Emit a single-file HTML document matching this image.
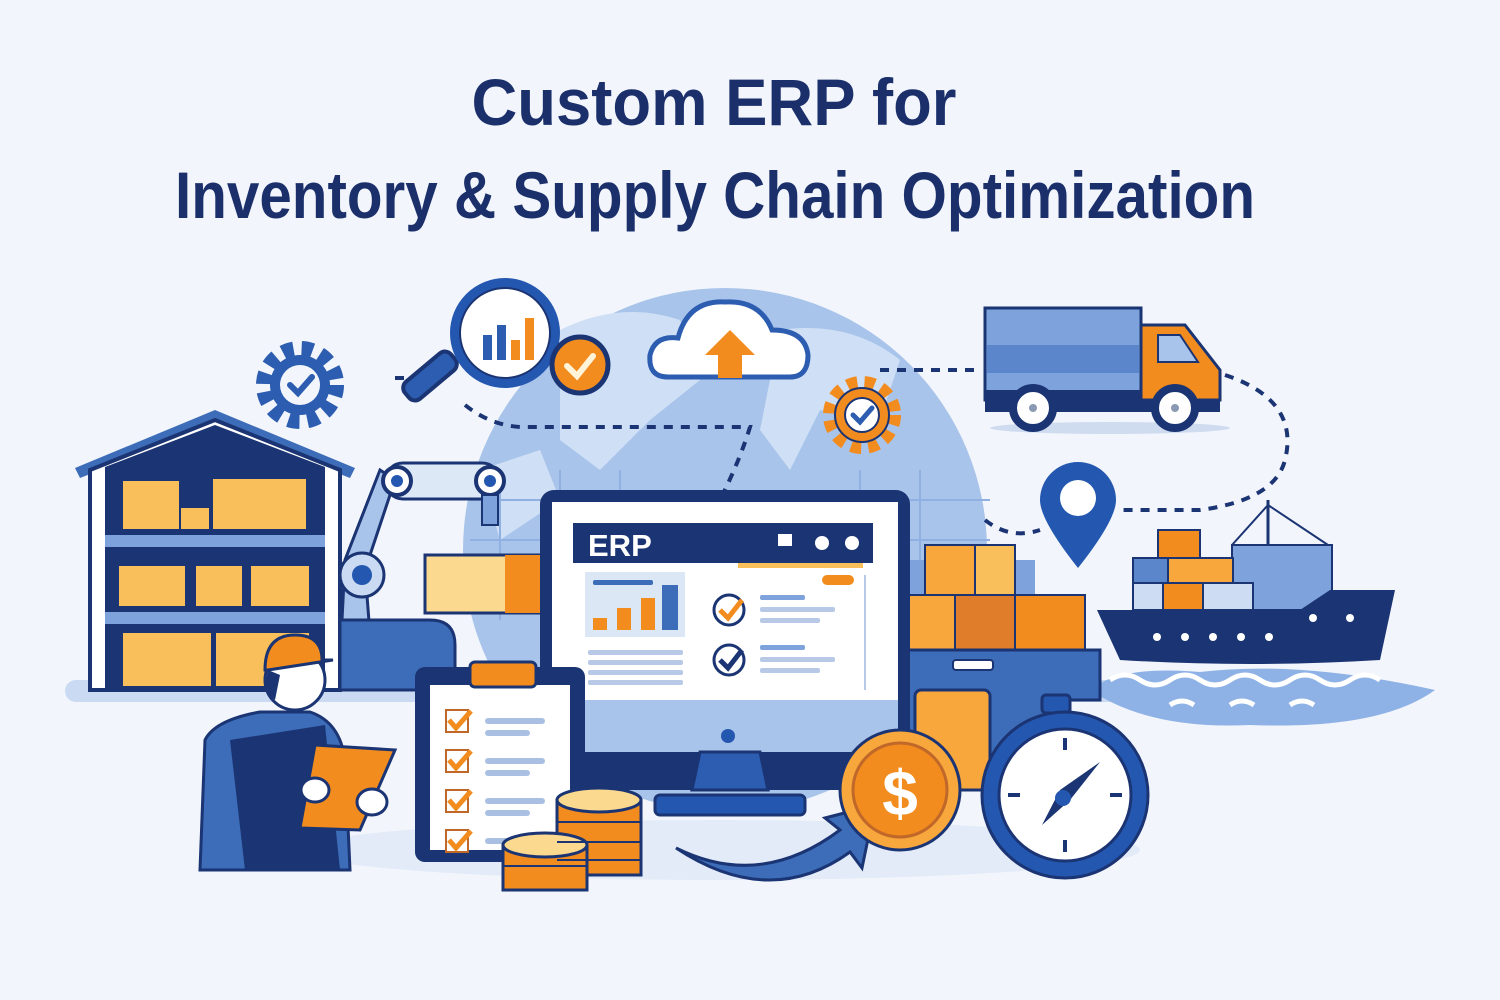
<!DOCTYPE html>
<html><head><meta charset="utf-8"><style>
html,body{margin:0;padding:0;background:#f2f5fb;width:1500px;height:1000px;overflow:hidden}
svg{display:block}
</style></head><body>
<svg width="1500" height="1000" viewBox="0 0 1500 1000" xmlns="http://www.w3.org/2000/svg">
<rect width="1500" height="1000" fill="#f2f5fb"/>
<g font-family="'Liberation Sans Narrow','Liberation Sans',sans-serif" font-weight="bold" fill="#1b2f6b" text-anchor="middle">
<text x="714" y="125" font-size="66" textLength="485" lengthAdjust="spacingAndGlyphs">Custom ERP for</text>
<text x="715" y="218" font-size="66" textLength="1080" lengthAdjust="spacingAndGlyphs">Inventory &amp; Supply Chain Optimization</text>
</g>
<!-- ground shadows -->
<rect x="65" y="680" width="1080" height="22" rx="11" fill="#c9daf2"/>
<ellipse cx="720" cy="850" rx="420" ry="30" fill="#e2ebf7"/>
<!-- globe -->
<circle cx="725" cy="550" r="262" fill="#a9c4ea"/>
<path d="M560 330 Q620 300 680 320 L700 380 L650 420 L600 470 L560 440 Z" fill="#cfe0f6"/>
<path d="M780 330 Q850 320 900 360 L880 420 L820 410 L790 470 L760 430 Z" fill="#cfe0f6"/>
<path d="M480 470 L540 450 L560 500 L500 540 Z" fill="#cfe0f6"/>
<g stroke="#8fb0e0" stroke-width="2" fill="none">
<path d="M470 500 H990 M470 540 H990 M500 470 V620 M560 470 V620 M620 470 V620 M860 470 V620 M920 470 V620"/>
</g>
<!-- dotted connectors -->
<g stroke="#1b3473" stroke-width="4" stroke-dasharray="9 8" fill="none">
<path d="M395 378 H445"/>
<path d="M465 405 Q490 425 520 427 H750 Q740 460 720 500"/>
<path d="M880 370 H980"/>
<path d="M1225 375 Q1300 400 1285 460 Q1275 500 1200 510 H1120"/>
<path d="M985 520 Q1010 540 1040 530"/>
</g>
<!-- magnifier -->
<rect x="400" y="365" width="60" height="22" rx="8" transform="rotate(-40 430 376)" fill="#2c5db0" stroke="#1b3473" stroke-width="4"/>
<circle cx="505" cy="333" r="50" fill="#fff" stroke="#2458b0" stroke-width="10"/>
<circle cx="505" cy="333" r="45" fill="none" stroke="#1b3473" stroke-width="2"/>
<rect x="483" y="335" width="9" height="25" fill="#2c5db0"/><rect x="497" y="325" width="9" height="35" fill="#2c5db0"/>
<rect x="511" y="340" width="9" height="20" fill="#f28c1e"/><rect x="525" y="318" width="9" height="42" fill="#f28c1e"/>
<circle cx="580" cy="365" r="28" fill="#f28c1e" stroke="#1b3473" stroke-width="5"/>
<path d="M567 366 L577 376 L593 356" stroke="#fff3d8" stroke-width="6" fill="none" stroke-linecap="round"/>
<!-- cloud -->
<path d="M668 377 Q648 377 650 355 Q655 335 678 338 Q688 300 725 302 Q760 300 772 330 Q805 330 808 355 Q808 377 790 377 Z" fill="#fff" stroke="#2c5db0" stroke-width="5"/>
<path d="M730 330 L755 355 H742 V378 H718 V355 H705 Z" fill="#f28c1e"/>
<!-- gears -->
<g transform="translate(300,385)">
<circle r="36" fill="none" stroke="#2c5db0" stroke-width="16" stroke-dasharray="11 8"/>
<circle r="30" fill="#2c5db0"/><circle r="20" fill="#f2f5fb"/>
<path d="M-10 0 L-2 8 L12 -8" stroke="#2c5db0" stroke-width="6" fill="none" stroke-linecap="round"/>
</g>
<g transform="translate(862,415)">
<circle r="32" fill="none" stroke="#f28c1e" stroke-width="14" stroke-dasharray="10 7"/>
<circle r="27" fill="#f28c1e" stroke="#1b3473" stroke-width="2"/><circle r="17" fill="#fff" stroke="#1b3473" stroke-width="2"/>
<path d="M-9 0 L-2 7 L10 -7" stroke="#2c5db0" stroke-width="5" fill="none" stroke-linecap="round"/>
</g>
<!-- truck -->
<ellipse cx="1110" cy="428" rx="120" ry="6" fill="#cfdcf0"/>
<rect x="985" y="308" width="156" height="92" fill="#7ea3dc" stroke="#1b3473" stroke-width="3"/>
<rect x="987" y="345" width="152" height="28" fill="#5b86cc"/>
<rect x="985" y="390" width="235" height="22" fill="#1b3473"/>
<path d="M1141 325 H1185 L1220 370 V400 H1141 Z" fill="#f28c1e" stroke="#1b3473" stroke-width="3"/>
<path d="M1158 335 H1180 L1198 362 H1158 Z" fill="#a9c4ea" stroke="#1b3473" stroke-width="2"/>
<circle cx="1033" cy="408" r="20" fill="#fff" stroke="#1b3473" stroke-width="8"/><circle cx="1033" cy="408" r="4" fill="#8a9ab5"/>
<circle cx="1175" cy="408" r="20" fill="#fff" stroke="#1b3473" stroke-width="8"/><circle cx="1175" cy="408" r="4" fill="#8a9ab5"/>
<!-- location pin -->
<path d="M1078 568 Q1040 520 1040 500 A38 38 0 0 1 1116 500 Q1116 520 1078 568 Z" fill="#2458b0"/>
<circle cx="1078" cy="498" r="18" fill="#fff"/>
<!-- ship -->
<path d="M1090 690 Q1120 665 1200 672 Q1300 660 1435 690 Q1380 730 1250 725 Q1150 730 1090 690 Z" fill="#8fb2e6"/>
<g stroke="#fff" stroke-width="5" fill="none"><path d="M1110 680 q15 -10 30 0 t30 0 t30 0 t30 0 t30 0 t30 0 t30 0 t30 0 t30 0"/><path d="M1170 705 q12 -8 24 0 M1230 705 q12-8 24 0 M1290 705 q12 -8 24 0"/></g>
<line x1="1268" y1="500" x2="1268" y2="565" stroke="#1b3473" stroke-width="3"/>
<path d="M1268 505 L1232 545 M1268 505 L1328 545" stroke="#1b3473" stroke-width="2"/>
<rect x="1232" y="545" width="100" height="65" fill="#7ea3dc" stroke="#1b3473" stroke-width="2"/>
<rect x="1133" y="558" width="35" height="25" fill="#5b86cc" stroke="#1b3473" stroke-width="2"/>
<rect x="1158" y="530" width="42" height="28" fill="#f28c1e" stroke="#1b3473" stroke-width="2"/>
<rect x="1168" y="558" width="65" height="25" fill="#f7a73c" stroke="#1b3473" stroke-width="2"/>
<rect x="1133" y="583" width="30" height="27" fill="#cddcf2" stroke="#1b3473" stroke-width="2"/>
<rect x="1163" y="583" width="40" height="27" fill="#f28c1e" stroke="#1b3473" stroke-width="2"/>
<rect x="1203" y="583" width="50" height="27" fill="#cddcf2" stroke="#1b3473" stroke-width="2"/>
<path d="M1097 610 H1300 L1330 590 H1395 L1380 660 Q1250 668 1120 660 Z" fill="#1b3473"/>
<g fill="#fff"><circle cx="1157" cy="637" r="4"/><circle cx="1185" cy="637" r="4"/><circle cx="1213" cy="637" r="4"/><circle cx="1241" cy="637" r="4"/><circle cx="1269" cy="637" r="4"/><circle cx="1313" cy="618" r="4"/><circle cx="1350" cy="618" r="4"/></g>
<!-- warehouse -->
<path d="M75 468 L215 410 L355 468 L350 478 L215 425 L80 478 Z" fill="#3d6db8"/>
<path d="M90 470 L215 420 L340 470 V690 H90 Z" fill="#fff" stroke="#1b3473" stroke-width="4"/>
<path d="M105 467 L215 425 L325 467 V690 H105 Z" fill="#1b3473"/>
<rect x="105" y="535" width="220" height="12" fill="#7ea3dc"/>
<rect x="105" y="612" width="220" height="12" fill="#7ea3dc"/>
<g fill="#f9bf5a" stroke="#1b3473" stroke-width="2">
<rect x="122" y="480" width="58" height="50"/><rect x="180" y="507" width="30" height="23"/><rect x="212" y="478" width="95" height="52"/>
<rect x="118" y="565" width="68" height="42"/><rect x="195" y="565" width="48" height="42"/><rect x="250" y="565" width="60" height="42"/>
<rect x="122" y="632" width="90" height="55"/><rect x="215" y="632" width="95" height="55"/>
</g>
<!-- robot arm -->
<path d="M340 660 L345 560 L380 470 L395 480 L365 570 L372 660 Z" fill="#a9c4ea" stroke="#1b3473" stroke-width="3"/>
<circle cx="362" cy="575" r="22" fill="#c9daf2" stroke="#1b3473" stroke-width="3"/><circle cx="362" cy="575" r="10" fill="#2458b0"/>
<rect x="385" y="463" width="115" height="36" rx="18" fill="#dde8f7" stroke="#1b3473" stroke-width="3"/>
<circle cx="397" cy="481" r="14" fill="#fff" stroke="#1b3473" stroke-width="4"/><circle cx="397" cy="481" r="6" fill="#2458b0"/>
<circle cx="490" cy="481" r="14" fill="#fff" stroke="#1b3473" stroke-width="4"/><circle cx="490" cy="481" r="6" fill="#2458b0"/>
<rect x="482" y="495" width="16" height="30" fill="#7ea3dc" stroke="#1b3473" stroke-width="2"/>
<rect x="425" y="555" width="120" height="58" fill="#fbd98f" stroke="#1b3473" stroke-width="3"/>
<rect x="505" y="555" width="40" height="58" fill="#f28c1e"/>
<path d="M340 620 H430 Q455 620 455 645 V690 H340 Z" fill="#3d6db8" stroke="#1b3473" stroke-width="3"/>
<!-- boxes right of monitor -->
<rect x="905" y="560" width="130" height="40" fill="#7ea3dc"/>
<g stroke="#1b3473" stroke-width="2">
<rect x="925" y="545" width="50" height="50" fill="#f7a73c"/><rect x="975" y="545" width="40" height="50" fill="#f9bf5a"/>
<rect x="905" y="595" width="50" height="55" fill="#f7a73c"/><rect x="955" y="595" width="60" height="55" fill="#e07d2a"/><rect x="1015" y="595" width="70" height="55" fill="#f28c1e"/>
</g>
<path d="M905 650 H1100 V700 H1070 V760 H905 Z" fill="#3d6db8" stroke="#1b3473" stroke-width="3"/>
<rect x="953" y="660" width="40" height="10" rx="3" fill="#fff" stroke="#1b3473" stroke-width="2"/>
<!-- monitor -->
<rect x="540" y="490" width="370" height="300" rx="14" fill="#1b3473"/>
<rect x="552" y="502" width="346" height="198" fill="#fff"/>
<rect x="552" y="700" width="346" height="52" fill="#a9c4ea"/>
<circle cx="728" cy="736" r="7" fill="#2458b0"/>
<path d="M700 752 H760 L768 790 H692 Z" fill="#2c5db0" stroke="#1b3473" stroke-width="3"/>
<rect x="655" y="795" width="150" height="20" rx="5" fill="#2458b0" stroke="#1b3473" stroke-width="3"/>
<rect x="573" y="523" width="300" height="40" fill="#1b3473"/>
<text x="588" y="556" font-family="'Liberation Sans',sans-serif" font-weight="bold" font-size="31" fill="#fff">ERP</text>
<rect x="778" y="534" width="14" height="12" fill="#fff"/><circle cx="822" cy="543" r="7" fill="#fff"/><circle cx="852" cy="543" r="7" fill="#fff"/>
<rect x="738" y="563" width="125" height="5" fill="#f9bf5a"/>
<rect x="585" y="572" width="100" height="65" fill="#dce7f6"/>
<rect x="593" y="580" width="60" height="5" rx="2" fill="#3d6db8"/>
<rect x="593" y="618" width="14" height="12" fill="#f28c1e"/><rect x="617" y="608" width="14" height="22" fill="#f28c1e"/><rect x="641" y="598" width="14" height="32" fill="#f28c1e"/><rect x="662" y="585" width="16" height="45" fill="#3d6db8"/>
<g fill="#b7c9e6"><rect x="588" y="650" width="95" height="5" rx="2"/><rect x="588" y="660" width="95" height="5" rx="2"/><rect x="588" y="670" width="95" height="5" rx="2"/><rect x="588" y="680" width="95" height="5" rx="2"/></g>
<rect x="822" y="575" width="32" height="10" rx="5" fill="#f28c1e"/>
<circle cx="729" cy="610" r="15" fill="#fff" stroke="#1b3473" stroke-width="3"/><path d="M720 610 L728 618 L742 600" stroke="#f28c1e" stroke-width="5" fill="none"/>
<circle cx="729" cy="660" r="15" fill="#fff" stroke="#1b3473" stroke-width="3"/><path d="M720 660 L728 668 L742 650" stroke="#1b3473" stroke-width="5" fill="none"/>
<g fill="#7ea3dc"><rect x="760" y="595" width="45" height="5" rx="2"/><rect x="760" y="645" width="45" height="5" rx="2"/></g>
<g fill="#b7c9e6"><rect x="760" y="607" width="75" height="5" rx="2"/><rect x="760" y="618" width="60" height="5" rx="2"/><rect x="760" y="657" width="75" height="5" rx="2"/><rect x="760" y="668" width="60" height="5" rx="2"/></g>
<line x1="865" y1="575" x2="865" y2="690" stroke="#b7c9e6" stroke-width="2"/>
<!-- clipboard -->
<rect x="415" y="667" width="170" height="195" rx="10" fill="#1b3473"/>
<rect x="430" y="685" width="140" height="165" fill="#fff"/>
<rect x="470" y="662" width="66" height="25" rx="5" fill="#f28c1e" stroke="#1b3473" stroke-width="3"/>
<g stroke="#c0672a" stroke-width="2" fill="#fff"><rect x="446" y="710" width="22" height="22"/><rect x="446" y="750" width="22" height="22"/><rect x="446" y="790" width="22" height="22"/><rect x="446" y="830" width="22" height="22"/></g>
<g stroke="#f28c1e" stroke-width="5" fill="none"><path d="M449 720 l7 8 l15 -17"/><path d="M449 760 l7 8 l15 -17"/><path d="M449 800 l7 8 l15 -17"/><path d="M449 840 l7 8 l15 -17"/></g>
<g fill="#a9c0e2"><rect x="485" y="718" width="60" height="6" rx="3"/><rect x="485" y="730" width="45" height="6" rx="3"/><rect x="485" y="758" width="60" height="6" rx="3"/><rect x="485" y="770" width="45" height="6" rx="3"/><rect x="485" y="798" width="60" height="6" rx="3"/><rect x="485" y="810" width="45" height="6" rx="3"/><rect x="485" y="838" width="60" height="6" rx="3"/></g>
<!-- coins -->
<g stroke="#1b3473" stroke-width="3">
<rect x="557" y="800" width="84" height="75" fill="#f28c1e"/><ellipse cx="599" cy="800" rx="42" ry="12" fill="#fbd98f"/>
<rect x="503" y="845" width="84" height="45" fill="#f28c1e"/><ellipse cx="545" cy="845" rx="42" ry="12" fill="#fbd98f"/>
</g>
<g stroke="#1b3473" stroke-width="2"><line x1="557" y1="822" x2="641" y2="822"/><line x1="557" y1="842" x2="641" y2="842"/><line x1="557" y1="860" x2="641" y2="860"/><line x1="503" y1="866" x2="587" y2="866"/></g>
<!-- arrow -->
<path d="M676 848 Q760 890 840 830 L825 818 L875 805 L862 868 L850 852 Q770 910 676 848 Z" fill="#3d6db8" stroke="#1b3473" stroke-width="3"/>
<!-- dollar coin + box -->
<rect x="915" y="690" width="75" height="100" rx="6" fill="#f7a73c" stroke="#1b3473" stroke-width="3"/>
<circle cx="900" cy="790" r="60" fill="#f7a73c" stroke="#1b3473" stroke-width="3"/>
<circle cx="900" cy="790" r="47" fill="#f28c1e" stroke="#c0672a" stroke-width="3"/>
<text x="900" y="815" text-anchor="middle" font-family="'Liberation Sans',sans-serif" font-weight="bold" font-size="64" fill="#fff">$</text>
<!-- stopwatch -->
<rect x="1042" y="695" width="28" height="18" rx="4" fill="#2458b0" stroke="#1b3473" stroke-width="3"/>
<circle cx="1065" cy="795" r="83" fill="#2458b0" stroke="#1b3473" stroke-width="3"/>
<circle cx="1065" cy="795" r="66" fill="#fff" stroke="#1b3473" stroke-width="3"/>
<g stroke="#1b3473" stroke-width="4"><line x1="1065" y1="738" x2="1065" y2="750"/><line x1="1065" y1="840" x2="1065" y2="852"/><line x1="1008" y1="795" x2="1020" y2="795"/><line x1="1110" y1="795" x2="1122" y2="795"/></g>
<path d="M1100 762 L1070 800 L1042 825 L1060 790 Z" fill="#1b3473"/><circle cx="1063" cy="798" r="8" fill="#2458b0"/>
<!-- worker -->
<path d="M200 870 L205 740 Q215 720 260 712 L310 712 Q340 722 345 760 L350 870 Z" fill="#3d6db8" stroke="#1b3473" stroke-width="3"/>
<path d="M230 740 L245 870 H340 L325 725 Z" fill="#1b3473"/>
<circle cx="295" cy="680" r="30" fill="#fff" stroke="#1b3473" stroke-width="3"/>
<path d="M265 670 Q265 635 295 635 Q322 635 322 660 L333 660 L268 670 Z" fill="#f28c1e" stroke="#1b3473" stroke-width="3"/>
<path d="M268 670 Q262 690 275 700 L280 675 Z" fill="#1b3473"/>
<path d="M315 745 L395 750 L360 830 L300 828 Z" fill="#f28c1e" stroke="#1b3473" stroke-width="3"/>
<ellipse cx="315" cy="790" rx="14" ry="12" fill="#fff" stroke="#1b3473" stroke-width="3"/>
<ellipse cx="372" cy="802" rx="15" ry="13" fill="#fff" stroke="#1b3473" stroke-width="3"/>
</svg>
</body></html>
